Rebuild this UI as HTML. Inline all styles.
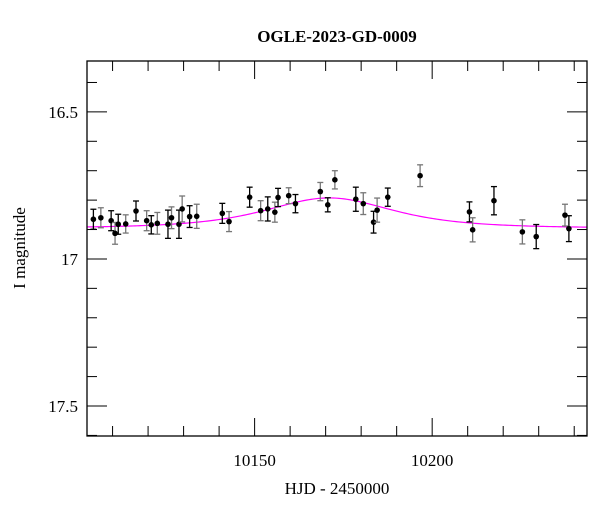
<!DOCTYPE html>
<html><head><meta charset="utf-8"><style>
body{margin:0;background:#fff}
svg text{font-family:"Liberation Serif",serif;fill:#000}
</style></head><body>
<svg id="chart" width="600" height="512" viewBox="0 0 600 512" xmlns="http://www.w3.org/2000/svg">
<text x="337" y="42" font-size="17" font-weight="bold" text-anchor="middle">OGLE-2023-GD-0009</text>
<text transform="translate(25,248) rotate(-90)" font-size="17" text-anchor="middle">I magnitude</text>
<text x="337" y="494" font-size="17" text-anchor="middle">HJD - 2450000</text>
<g id="ticks"></g>
<g id="model"></g>
<g id="pts"></g>
<rect x="87" y="61" width="500" height="375" fill="none" stroke="#000" stroke-width="1.3"/>
</svg>
<script>
const hjd=[10104.6,10106.7,10109.6,10110.7,10111.6,10113.7,10116.6,10119.6,10120.9,10122.6,10125.6,10126.6,10128.7,10129.6,10131.7,10133.7,10140.9,10142.8,10148.6,10151.7,10153.7,10155.7,10156.6,10159.6,10161.5,10168.5,10170.6,10172.6,10178.5,10180.6,10183.5,10184.5,10187.5,10196.6,10210.5,10211.4,10217.4,10225.4,10229.3,10237.4,10238.5];
const mag=[16.865,16.860,16.870,16.913,16.882,16.881,16.837,16.870,16.884,16.879,16.882,16.860,16.882,16.830,16.856,16.855,16.845,16.873,16.790,16.836,16.830,16.841,16.791,16.785,16.812,16.771,16.816,16.731,16.797,16.812,16.875,16.834,16.790,16.717,16.840,16.901,16.802,16.908,16.924,16.851,16.897];
const err=[0.034,0.034,0.034,0.037,0.034,0.031,0.034,0.034,0.031,0.037,0.048,0.037,0.048,0.044,0.037,0.041,0.034,0.034,0.034,0.034,0.041,0.034,0.031,0.027,0.031,0.031,0.024,0.031,0.041,0.037,0.037,0.041,0.031,0.037,0.034,0.041,0.048,0.041,0.041,0.037,0.044];
const yTicks=[16.5,17,17.5];
const xTicks=[10150,10200];
const modelT0=10171, modelU0=1.68, modelTE=15.6, modelBase=16.895;
const X0=87,X1=587,Y0=61,Y1=436,D0=10102.8,D1=10243.6,M0=16.327,M1=17.602;
const sx=d=>X0+(d-D0)/(D1-D0)*(X1-X0);
const sy=m=>Y0+(m-M0)/(M1-M0)*(Y1-Y0);
const NS='http://www.w3.org/2000/svg';
function mk(tag,attrs,parent){const e=document.createElementNS(NS,tag);for(const k in attrs)e.setAttribute(k,attrs[k]);parent.appendChild(e);return e;}
const tg=document.getElementById('ticks');
for(let m=16.4;m<=17.61;m+=0.1){const mm=Math.round(m*10)/10;const y=sy(mm);const major=yTicks.some(t=>Math.abs(t-mm)<1e-6);const L=major?20:10;
 const a=mk('line',{x1:X0,x2:X0+L,y1:y,y2:y,stroke:'#000'},tg);
 const b=mk('line',{x1:X1,x2:X1-L,y1:y,y2:y,stroke:'#000'},tg);}
yTicks.forEach(t=>{const e=mk('text',{x:78,y:sy(t)+6,'font-size':17,'text-anchor':'end'},tg);e.textContent=String(t);});
for(let d=10110;d<=10240;d+=10){const x=sx(d);const major=xTicks.includes(d);const L=major?18:10;
 const a=mk('line',{x1:x,x2:x,y1:Y1,y2:Y1-L,stroke:'#000'},tg);
 const b=mk('line',{x1:x,x2:x,y1:Y0,y2:Y0+L,stroke:'#000'},tg);}
xTicks.forEach(t=>{const e=mk('text',{x:sx(t),y:466,'font-size':17,'text-anchor':'middle'},tg);e.textContent=String(t);});
let dstr='';
for(let i=0;i<=250;i++){const t=D0+(D1-D0)*i/250;const u=Math.sqrt(modelU0*modelU0+Math.pow((t-modelT0)/modelTE,2));const A=(u*u+2)/(u*Math.sqrt(u*u+4));const m=modelBase-2.5*Math.log10(A);dstr+=(i?'L':'M')+sx(t).toFixed(2)+','+sy(m).toFixed(2);}
const mc=mk('path',{d:dstr,fill:'none',stroke:'#ff00ff','stroke-width':1.2},document.getElementById('model'));

const pg=document.getElementById('pts');
hjd.forEach((d,i)=>{const x=sx(d),y=sy(mag[i]),y1=sy(mag[i]-err[i]),y2=sy(mag[i]+err[i]);const col=i%2?'#777':'#000';
 const g=mk('g',{},pg);
 mk('line',{x1:x,x2:x,y1:y1,y2:y2,stroke:col,'stroke-width':1.3},g);
 mk('line',{x1:x-3,x2:x+3,y1:y1,y2:y1,stroke:col,'stroke-width':1.3},g);
 mk('line',{x1:x-3,x2:x+3,y1:y2,y2:y2,stroke:col,'stroke-width':1.3},g);
 mk('circle',{cx:x,cy:y,r:2.8,fill:'#000'},g);});
</script>
</body></html>
